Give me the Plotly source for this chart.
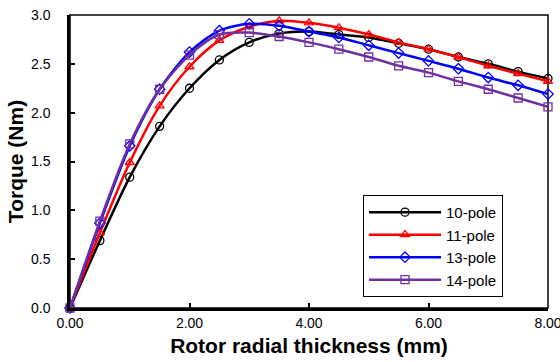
import plotly.graph_objects as go

thickness = [0, 0.5, 1.0, 1.5, 2.0, 2.5, 3.0, 3.5, 4.0, 4.5, 5.0, 5.5, 6.0, 6.5, 7.0, 7.5, 8.0]
pole10 = [0.0, 0.69, 1.34, 1.86, 2.25, 2.54, 2.72, 2.81, 2.83, 2.80, 2.77, 2.71, 2.65, 2.57, 2.50, 2.42, 2.35]
pole11 = [0.0, 0.77, 1.49, 2.07, 2.47, 2.74, 2.88, 2.94, 2.92, 2.87, 2.80, 2.72, 2.65, 2.57, 2.48, 2.40, 2.32]
pole13 = [0.0, 0.87, 1.66, 2.24, 2.62, 2.84, 2.91, 2.89, 2.83, 2.77, 2.69, 2.61, 2.53, 2.45, 2.36, 2.28, 2.19]
pole14 = [0.0, 0.89, 1.68, 2.24, 2.59, 2.80, 2.82, 2.78, 2.72, 2.65, 2.57, 2.48, 2.41, 2.32, 2.24, 2.15, 2.06]

series = [
    ("10-pole", pole10, "#000000", "circle-open"),
    ("11-pole", pole11, "#ff0000", "triangle-up-open"),
    ("13-pole", pole13, "#0000ff", "diamond-open"),
    ("14-pole", pole14, "#7030a0", "square-open"),
]

fig = go.Figure()
for name, vals, color, sym in series:
    fig.add_trace(go.Scatter(
        x=thickness, y=vals, name=name, mode="lines+markers",
        line=dict(color=color, width=2.5, shape="spline", smoothing=0.8),
        marker=dict(symbol=sym, size=8, color=color, line=dict(width=1.3, color=color)),
        cliponaxis=False,
    ))

font = "Liberation Sans, Arial, sans-serif"
fig.update_layout(
    template="none",
    width=560, height=362,
    margin=dict(l=70, r=12, t=15, b=54, autoexpand=False),
    paper_bgcolor="white", plot_bgcolor="white",
    font=dict(family=font, size=14, color="black"),
    showlegend=True,
    legend=dict(
        x=0.613, y=0.386, xanchor="left", yanchor="top",
        bordercolor="black", borderwidth=1, bgcolor="white",
        font=dict(size=15), tracegroupgap=0, itemwidth=72,
    ),
    xaxis=dict(
        range=[0, 8], tickvals=[0, 2, 4, 6, 8], tickformat=".2f",
        ticks="inside", ticklen=5, tickwidth=1.5, tickcolor="black",
        showline=True, linecolor="black", linewidth=2.5, automargin=False,
        showgrid=False, zeroline=False, ticklabeloverflow="allow",
        title=dict(text="<b>Rotor radial thickness (mm)</b>", font=dict(size=21), standoff=9),
    ),
    yaxis=dict(
        range=[0, 3], tickvals=[0, 0.5, 1.0, 1.5, 2.0, 2.5, 3.0], tickformat=".1f",
        ticks="inside", ticklen=5, tickwidth=1.5, tickcolor="black",
        showline=True, linecolor="black", linewidth=2.5, automargin=False,
        showgrid=False, zeroline=False, ticklabelstandoff=14,
        title=dict(text="<b>Torque (Nm)</b>", font=dict(size=21), standoff=2),
    ),
    shapes=[dict(type="rect", xref="paper", yref="paper", x0=0, y0=0, x1=1, y1=1,
                 line=dict(color="black", width=1.5), layer="below")],
)

fig.write_html("out.html", config={"displayModeBar": False},
               post_script="document.body.style.margin='0';document.body.style.overflow='hidden';")
